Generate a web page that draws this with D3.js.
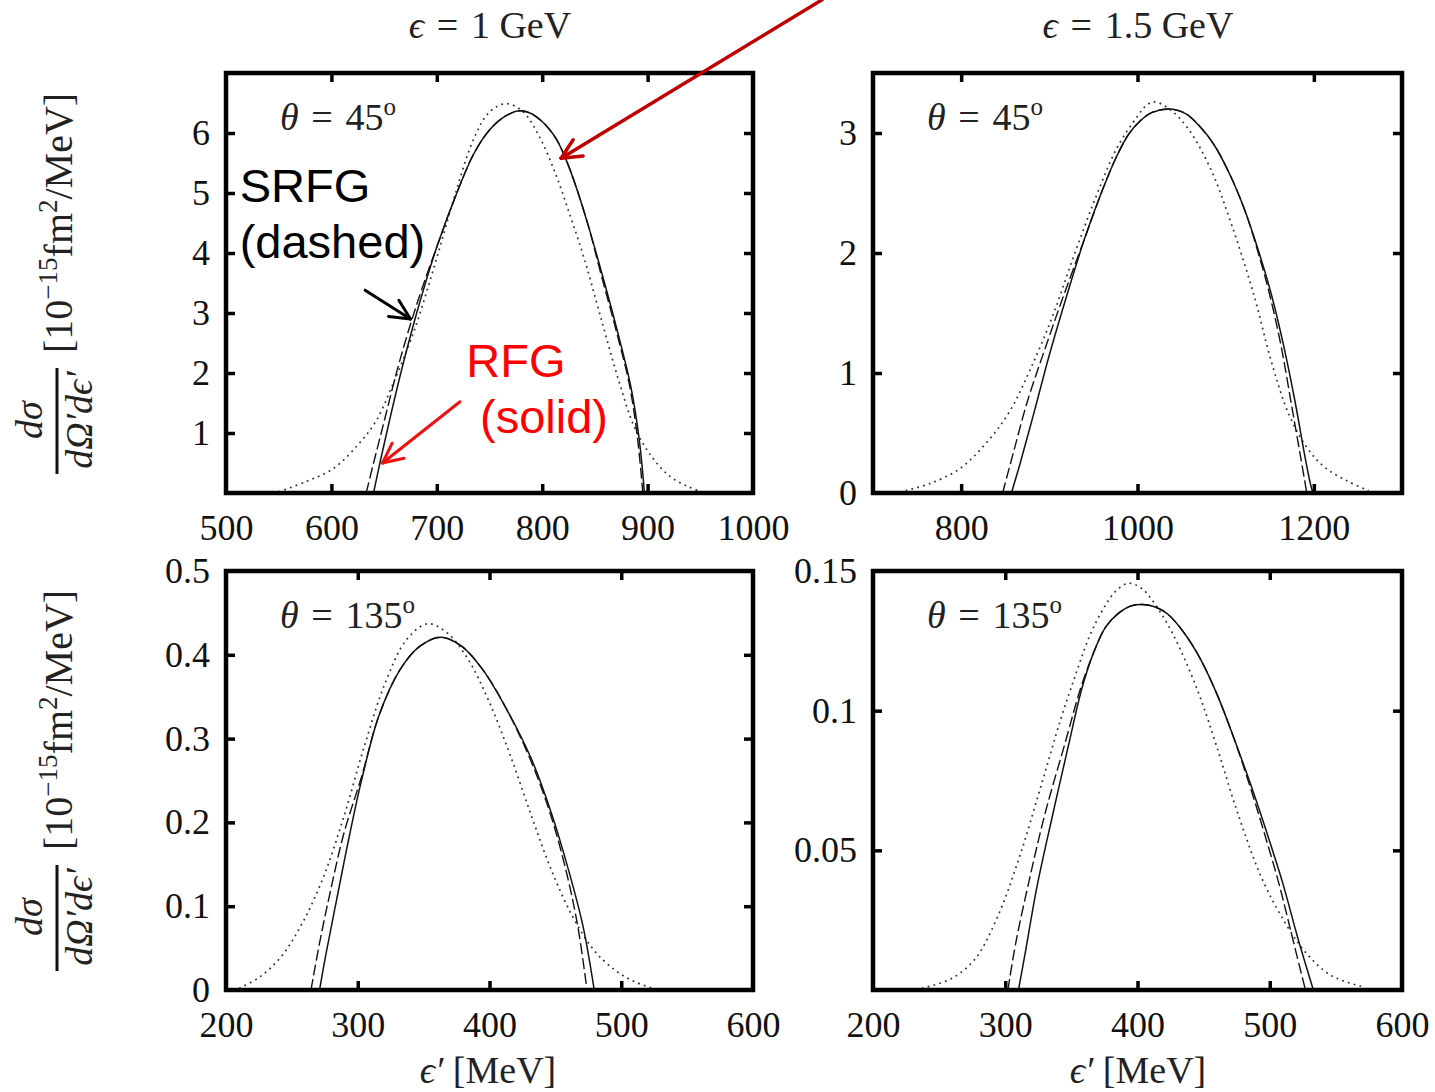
<!DOCTYPE html>
<html lang="en">
<head>
<meta charset="UTF-8">
<title>RFG / SRFG cross sections</title>
<script src="https://d3js.org/d3.v7.min.js"></script>
<style>
  body { margin: 0; background: #fff; }
  text { font-family: "Liberation Serif", "DejaVu Serif", serif; }
  text.note { font-family: "Liberation Sans", Arial, sans-serif; }
</style>
</head>
<body>
<svg width="1435" height="1092"></svg>
<script>
// ---- data: [epsilon' (MeV), dsigma/dOmega'de' ] ----
// top-left: eps = 1 GeV, theta = 45
const tl_rfg  = [[640,0],[646,0.5],[655,1.2],[668,2.15],[685,3.25],[701,4.15],[719,5.0],[735,5.65],[750,6.05],[765,6.28],[779,6.37],[790,6.32],[798,6.22],[806,6.08],[814,5.88],[823,5.54],[833,5.06],[844,4.44],[856,3.7],[871,2.72],[884,1.78],[892,0.9],[897,0]];
const tl_srfg = [[633,0],[640,0.5],[648,1.05],[664,2.15],[682,3.2],[701,4.15],[719,5.0],[735,5.65],[750,6.05],[765,6.28],[779,6.37],[790,6.32],[798,6.22],[806,6.08],[814,5.88],[823,5.54],[833,5.06],[844,4.44],[855,3.7],[870,2.72],[883,1.78],[890.5,0.9],[895.5,0]];
const tl_dot  = [[550,0.02],[576,0.19],[602,0.41],[625,0.8],[642,1.19],[658,1.8],[678,2.68],[698,3.8],[717,4.95],[735,5.9],[750,6.35],[766,6.49],[782,6.35],[797,5.95],[812,5.35],[826,4.65],[840,3.9],[855,2.96],[872,1.91],[888,1.08],[905,0.58],[921,0.28],[938,0.11],[951,0.02]];
// top-right: eps = 1.5 GeV, theta = 45
const tr_rfg  = [[857,0],[867,0.25],[883,0.68],[900,1.15],[920,1.65],[940,2.12],[960,2.52],[976,2.8],[990,2.99],[1003,3.1],[1016,3.17],[1037,3.2],[1055,3.16],[1070,3.06],[1087,2.9],[1105,2.65],[1122,2.35],[1138,2.0],[1152,1.65],[1166,1.22],[1179,0.75],[1190,0.3],[1196,0.08],[1199,0]];
const tr_srfg = [[847,0],[859,0.33],[875,0.76],[895,1.2],[915,1.62],[940,2.12],[960,2.52],[976,2.8],[990,2.99],[1003,3.1],[1016,3.17],[1037,3.2],[1055,3.16],[1070,3.06],[1087,2.9],[1105,2.65],[1122,2.35],[1137,2.0],[1150,1.65],[1163,1.22],[1175,0.72],[1185,0.3],[1192,0]];
const tr_dot  = [[737,0.02],[765,0.08],[798,0.2],[830,0.43],[855,0.68],[879,1.04],[904,1.48],[928,1.98],[953,2.47],[977,2.88],[1000,3.14],[1010,3.23],[1019,3.26],[1038,3.19],[1058,3.03],[1083,2.7],[1107,2.23],[1132,1.65],[1152,1.09],[1172,0.65],[1193,0.37],[1213,0.21],[1238,0.1],[1262,0.02]];
// bottom-left: eps = 1 GeV, theta = 135
const bl_rfg  = [[271,0],[276,0.044],[284,0.108],[293,0.179],[303,0.251],[316,0.327],[332,0.382],[347,0.41],[363,0.421],[379,0.41],[395,0.382],[413,0.335],[432,0.275],[447,0.211],[460,0.143],[471,0.076],[479.5,0]];
const bl_srfg = [[264.5,0],[271,0.056],[279,0.116],[289.5,0.187],[303,0.255],[316,0.327],[332,0.382],[347,0.41],[363,0.421],[379,0.41],[395,0.382],[413,0.335],[431,0.275],[446,0.211],[458,0.143],[467,0.076],[474,0]];
const bl_dot  = [[210,0.002],[226,0.016],[242,0.04],[258,0.08],[274,0.135],[289.5,0.207],[305,0.291],[321,0.367],[337,0.418],[353,0.437],[368,0.426],[384,0.394],[400,0.343],[416,0.279],[432,0.207],[447,0.143],[463,0.088],[479,0.048],[495,0.024],[510,0.01],[524,0.002]];
// bottom-right: eps = 1.5 GeV, theta = 135
const br_rfg  = [[310,0],[315,0.013],[324,0.037],[336,0.063],[348,0.088],[358,0.108],[367,0.121],[376,0.13],[386,0.135],[395,0.1375],[404,0.138],[414,0.137],[423,0.1345],[435,0.128],[447,0.119],[460,0.106],[473,0.09],[486,0.073],[498,0.056],[510,0.038],[521,0.019],[533,0]];
const br_srfg = [[302,0],[308,0.017],[318,0.039],[330,0.063],[345,0.088],[357,0.108],[367,0.121],[376,0.13],[386,0.135],[395,0.1375],[404,0.138],[414,0.137],[423,0.1345],[435,0.128],[447,0.119],[460,0.106],[473,0.09],[485,0.073],[496,0.056],[507,0.038],[517,0.019],[527,0]];
const br_dot  = [[237,0.0006],[259,0.004],[277,0.011],[294,0.026],[311,0.048],[327,0.073],[342,0.097],[354,0.114],[364,0.127],[373,0.1355],[383,0.1425],[393,0.1456],[403,0.1438],[412,0.139],[425,0.129],[437,0.117],[448,0.104],[460,0.087],[476,0.063],[494,0.04],[513,0.023],[528,0.013],[547,0.005],[572,0.001]];

// ---- ticks / labels ----
const tl_xTicks = [600,700,800,900],   tl_xLabels = [500,600,700,800,900,1000];
const tl_yTicks = [1,2,3,4,5,6],       tl_yLabels = [1,2,3,4,5,6];
const tr_xTicks = [800,1000,1200],     tr_xLabels = [800,1000,1200];
const tr_yTicks = [1,2,3],             tr_yLabels = [0,1,2,3];
const bl_xTicks = [300,400,500],       bl_xLabels = [200,300,400,500,600];
const bl_yTicks = [0.1,0.2,0.3,0.4],   bl_yLabels = [0,0.1,0.2,0.3,0.4,0.5];
const br_xTicks = [300,400,500],       br_xLabels = [200,300,400,500,600];
const br_yTicks = [0.05,0.1],          br_yLabels = [0.05,0.1,0.15];
const columnTitles = ["1", "1.5"];

const svg = d3.select("svg");
const SP = "\u2004"; // three-per-em space around "="

const panels = [
  {key:"tl", left:226, top:73,  w:527, h:420, xDom:[500,1000], yDom:[0,7],    xT:tl_xTicks, xL:tl_xLabels, yT:tl_yTicks, yL:tl_yLabels, theta:"45",  rfg:tl_rfg, srfg:tl_srfg, dot:tl_dot},
  {key:"tr", left:873, top:73,  w:529, h:420, xDom:[700,1300], yDom:[0,3.5],  xT:tr_xTicks, xL:tr_xLabels, yT:tr_yTicks, yL:tr_yLabels, theta:"45",  rfg:tr_rfg, srfg:tr_srfg, dot:tr_dot},
  {key:"bl", left:226, top:571, w:527, h:419, xDom:[200,600],  yDom:[0,0.5],  xT:bl_xTicks, xL:bl_xLabels, yT:bl_yTicks, yL:bl_yLabels, theta:"135", rfg:bl_rfg, srfg:bl_srfg, dot:bl_dot},
  {key:"br", left:873, top:571, w:529, h:419, xDom:[200,600],  yDom:[0,0.15], xT:br_xTicks, xL:br_xLabels, yT:br_yTicks, yL:br_yLabels, theta:"135", rfg:br_rfg, srfg:br_srfg, dot:br_dot}
];

const scales = {};

panels.forEach(p => {
  const g = svg.append("g").attr("transform", `translate(${p.left},${p.top})`);
  const x = d3.scaleLinear().domain(p.xDom).range([0, p.w]);
  const y = d3.scaleLinear().domain(p.yDom).range([p.h, 0]);
  scales[p.key] = {x, y, left: p.left, top: p.top};

  g.append("clipPath").attr("id", "clip-" + p.key)
    .append("rect").attr("width", p.w).attr("height", p.h);

  const line = d3.line().x(d => x(d[0])).y(d => y(d[1])).curve(d3.curveCatmullRom.alpha(0.5));
  const curves = g.append("g").attr("clip-path", `url(#clip-${p.key})`).attr("fill", "none");
  curves.append("path").datum(p.dot).attr("d", line)
    .attr("stroke", "#333").attr("stroke-width", 1.7).attr("stroke-dasharray", "1.8,4.2");
  curves.append("path").datum(p.rfg).attr("d", line)
    .attr("stroke", "#111").attr("stroke-width", 1.5);
  curves.append("path").datum(p.srfg).attr("d", line)
    .attr("stroke", "#111").attr("stroke-width", 1.4).attr("stroke-dasharray", "11,4");

  // inward tick marks on all four sides
  const marks = [
    [d3.axisBottom(x).tickValues(p.xT), `translate(0,${p.h})`],
    [d3.axisTop(x).tickValues(p.xT), "translate(0,0)"],
    [d3.axisLeft(y).tickValues(p.yT), "translate(0,0)"],
    [d3.axisRight(y).tickValues(p.yT), `translate(${p.w},0)`]
  ];
  marks.forEach(([ax, tr]) => {
    const a = g.append("g").attr("transform", tr).call(ax.tickSize(-9).tickFormat(""));
    a.select(".domain").remove();
    a.selectAll("line").attr("stroke", "#000").attr("stroke-width", 3.5);
  });

  // tick labels
  const xa = g.append("g").attr("transform", `translate(0,${p.h})`)
    .call(d3.axisBottom(x).tickValues(p.xL).tickSize(0).tickPadding(21).tickFormat(d3.format("")));
  const ya = g.append("g")
    .call(d3.axisLeft(y).tickValues(p.yL).tickSize(0).tickPadding(16).tickFormat(d3.format("")));
  [xa, ya].forEach(a => {
    a.select(".domain").remove();
    a.attr("font-family", null).attr("font-size", null);
    a.selectAll("text").attr("font-size", 36).attr("fill", "#111");
  });

  // frame
  g.append("rect").attr("width", p.w).attr("height", p.h)
    .attr("fill", "none").attr("stroke", "#000").attr("stroke-width", 4.5);

  // theta label
  const t = g.append("text").attr("x", 54).attr("y", 57).attr("font-size", 38).attr("fill", "#222");
  t.append("tspan").attr("font-style", "italic").text("θ");
  t.append("tspan").text(SP + "=" + SP + p.theta);
  t.append("tspan").attr("font-size", 25).attr("dy", -15).text("o");
});

// column titles
[[490, columnTitles[0]], [1138, columnTitles[1]]].forEach(([cx, v]) => {
  const t = svg.append("text").attr("x", cx).attr("y", 38).attr("text-anchor", "middle")
    .attr("font-size", 38).attr("fill", "#222");
  t.append("tspan").attr("font-style", "italic").text("ϵ");
  t.append("tspan").text(`${SP}=${SP}${v} GeV`);
});

// x-axis titles
[488, 1138].forEach(cx => {
  const t = svg.append("text").attr("x", cx).attr("y", 1083).attr("text-anchor", "middle")
    .attr("font-size", 38).attr("fill", "#222");
  t.append("tspan").attr("font-style", "italic").text("ϵ′");
  t.append("tspan").text(" [MeV]");
});

// y-axis titles (rotated)
[480, 977].forEach(by => {
  const g = svg.append("g").attr("transform", `translate(0,${by}) rotate(-90)`).attr("fill", "#222");
  g.append("text").attr("x", 60).attr("y", 42).attr("text-anchor", "middle")
    .attr("font-size", 38).attr("font-style", "italic").text("dσ");
  g.append("line").attr("x1", 6).attr("x2", 112).attr("y1", 57).attr("y2", 57)
    .attr("stroke", "#111").attr("stroke-width", 3);
  g.append("text").attr("x", 60).attr("y", 92).attr("text-anchor", "middle")
    .attr("font-size", 38).attr("font-style", "italic").text("dΩ′dϵ′");
  const b = g.append("text").attr("x", 127).attr("y", 72).attr("font-size", 40);
  b.append("tspan").text("[10");
  b.append("tspan").attr("font-size", 27).attr("dy", -15).text("−15");
  b.append("tspan").attr("dy", 15).text("fm");
  b.append("tspan").attr("font-size", 27).attr("dy", -15).text("2");
  b.append("tspan").attr("dy", 15).text("/MeV]");
});

// ---- annotations on the top-left panel (placed in its data coordinates) ----
const s = scales.tl;
const px = v => s.left + s.x(v), py = v => s.top + s.y(v);

function arrow(x1, y1, x2, y2, color, width) {
  const g = svg.append("g").attr("stroke", color).attr("stroke-width", width)
    .attr("fill", "none").attr("stroke-linecap", "round");
  g.append("line").attr("x1", x1).attr("y1", y1).attr("x2", x2).attr("y2", y2);
  const ang = Math.atan2(y1 - y2, x1 - x2), L = 22, spread = 0.45;
  [ang - spread, ang + spread].forEach(a => {
    g.append("line").attr("x1", x2).attr("y1", y2)
      .attr("x2", x2 + L * Math.cos(a)).attr("y2", y2 + L * Math.sin(a));
  });
}

const ann = svg.append("g").attr("font-size", 47);
ann.append("text").attr("class", "note").attr("x", px(513)).attr("y", py(4.85)).attr("fill", "#000").text("SRFG");
ann.append("text").attr("class", "note").attr("x", px(513)).attr("y", py(3.92)).attr("fill", "#000").text("(dashed)");
ann.append("text").attr("class", "note").attr("x", px(728)).attr("y", py(1.93)).attr("fill", "#ff0000").text("RFG");
ann.append("text").attr("class", "note").attr("x", px(741)).attr("y", py(1.0)).attr("fill", "#ff0000").text("(solid)");

arrow(px(632), py(3.38), px(675), py(2.9), "#000", 3);
arrow(px(722), py(1.52), px(648.5), py(0.5), "#ee1111", 3);
arrow(px(1065.5), py(8.22), px(818), py(5.58), "#c00000", 3.5);
</script>
</body>
</html>
